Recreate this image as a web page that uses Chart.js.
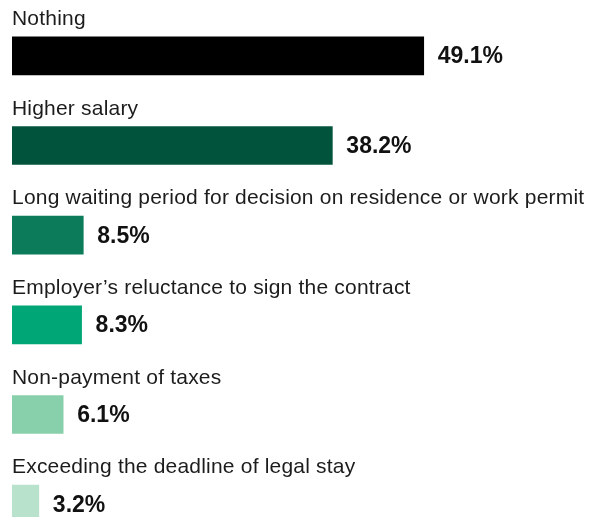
<!DOCTYPE html>
<html>
<head>
<meta charset="utf-8">
<script src="https://cdn.jsdelivr.net/npm/chart.js@4"></script>
<style>
  html, body { margin: 0; padding: 0; background: #fff; overflow: hidden; }
  #wrap { position: relative; width: 603px; height: 549px; }
</style>
</head>
<body>
<div id="wrap"><canvas id="reasonsChart"></canvas></div>
<script>
// reasons and share of respondents (%)
const reasons = [
    "Nothing",
    "Higher salary",
    "Long waiting period for decision on residence or work permit",
    "Employer\u2019s reluctance to sign the contract",
    "Non-payment of taxes",
    "Exceeding the deadline of legal stay"
];
const shares = [49.1, 38.2, 8.5, 8.3, 6.1, 3.2];
const barColors = ["#000000", "#02533b", "#0b7b59", "#00a675", "#88cfab", "#b9e2cd"];

// labels drawn above each bar, values to the right of it
const barLabels = {
    id: "barLabels",
    afterDatasetsDraw(chart) {
        const ctx = chart.ctx;
        const meta = chart.getDatasetMeta(0);
        ctx.save();
        meta.data.forEach(function (bar, i) {
            const top = bar.y - bar.height / 2;
            ctx.font = "21px 'Liberation Sans', Arial, sans-serif";
            ctx.letterSpacing = "0.2px";
            ctx.fillStyle = "#1c1c1c";
            ctx.textAlign = "left";
            ctx.textBaseline = "alphabetic";
            ctx.fillText(reasons[i], chart.chartArea.left, top - 12);

            ctx.font = "bold 23px 'Liberation Sans', Arial, sans-serif";
            ctx.letterSpacing = "0px";
            ctx.fillStyle = "#111111";
            ctx.textBaseline = "middle";
            ctx.fillText(shares[i].toFixed(1) + "%", bar.x + 14, bar.y + 1);
        });
        ctx.restore();
    }
};

new Chart("reasonsChart", {
    type: "bar",
    data: {
        labels: reasons,
        datasets: [{
            data: shares,
            backgroundColor: barColors,
            borderWidth: 0,
            barThickness: 38
        }]
    },
    options: {
        indexAxis: "y",
        responsive: true,
        maintainAspectRatio: false,
        animation: false,
        layout: { padding: { left: 12, right: 4, top: 11, bottom: 0 } },
        scales: {
            x: { display: false, min: 0, max: 70 },
            y: { display: false, offset: true }
        },
        plugins: {
            legend: { display: false },
            tooltip: { enabled: false }
        }
    },
    plugins: [barLabels]
});
</script>
</body>
</html>
